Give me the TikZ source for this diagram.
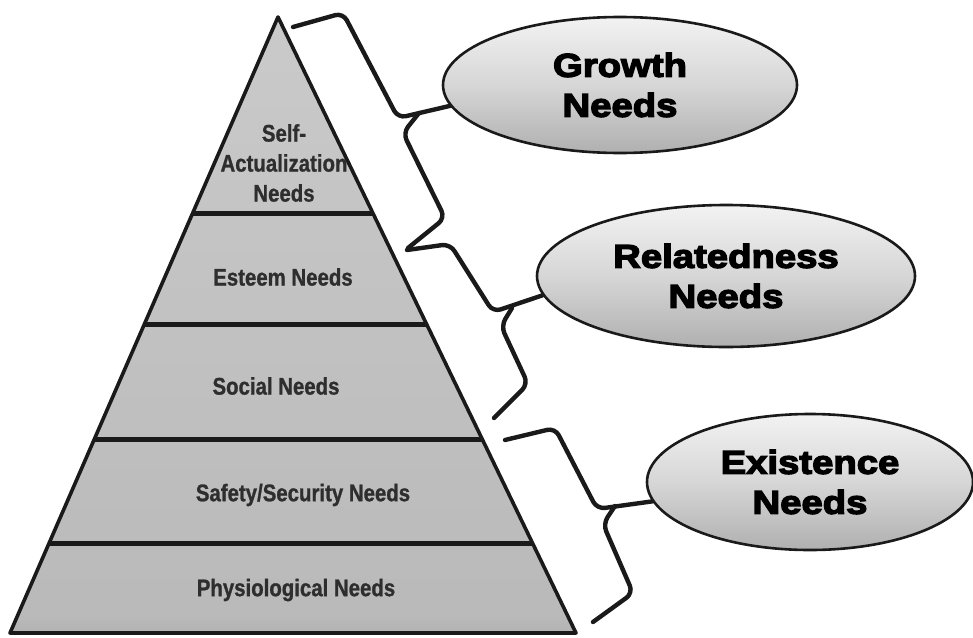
\documentclass[tikz,border=0pt]{standalone}
\usepackage{fontspec}
\setmainfont{Liberation Sans}
\newfontfamily\heavyfont[UprightFont={* Bold},FakeStretch=1.16,FakeBold=4]{Liberation Sans}
\newfontfamily\narrowfont[UprightFont={* Bold},FakeStretch=0.85,FakeBold=1]{Liberation Sans}
\usetikzlibrary{shapes.geometric}
\definecolor{pyrfill}{HTML}{B9B9B9}
\definecolor{pyrtop}{HTML}{CACACA}
\definecolor{labelgrey}{HTML}{2E2E2E}
\definecolor{lineblack}{HTML}{1A1A1A}
\tikzset{
  bubble/.style={ellipse, draw=lineblack, line width=2.6pt, inner sep=0pt,
    top color=gray!10, bottom color=gray!62, middle color=gray!32,
    font=\heavyfont\fontsize{33}{40}\selectfont, align=center, text=black},
  layerlabel/.style={font=\narrowfont\fontsize{24}{30}\selectfont, text=labelgrey, align=center},
  brace/.style={draw=lineblack, line width=4.4pt, rounded corners=8pt, line cap=round},
  divider/.style={draw=lineblack, line width=5pt}
}
\begin{document}
\begin{tikzpicture}[x=1pt,y=-1pt]
\useasboundingbox[fill=white] (0,0) rectangle (973,637);
% pyramid
\coordinate (apex) at (278,17);
\coordinate (bl) at (10,633);
\coordinate (br) at (576,633);
\fill[top color=pyrtop, bottom color=pyrfill] (apex) -- (br) -- (bl) -- cycle;
\begin{scope}
  \clip (apex) -- (br) -- (bl) -- cycle;
  \fill[top color=pyrfill, bottom color=gray!60] (0,618) rectangle (600,633);
  \draw[divider] (0,213) -- (600,213);
  \draw[divider] (0,324) -- (600,324);
  \draw[divider] (0,439) -- (600,439);
  \draw[divider] (0,543) -- (600,543);
\end{scope}
\draw[lineblack, line width=3.6pt, line join=round] (apex) -- (br) -- (bl) -- cycle;
% layer labels
\node[layerlabel] (self) at (284,163) {Self-\\Actualization\\Needs};
\node[layerlabel] (esteem) at (283,277) {Esteem Needs};
\node[layerlabel] (social) at (276,386) {Social Needs};
\node[layerlabel] (safety) at (303,495) {Safety/Security Needs};
\node[layerlabel] (physio) at (296,590) {Physiological Needs};
% ellipses
\node[bubble, minimum width=354pt, minimum height=136pt] (growth) at (620,85) {Growth\\Needs};
\node[bubble, minimum width=378pt, minimum height=142pt] (related) at (726,276) {Relatedness\\Needs};
\node[bubble, minimum width=326pt, minimum height=136pt] (exist) at (810,482) {Existence\\Needs};
% braces
\draw[brace] (293,27) -- (343,13) -- (398,118) -- (growth.187);
\draw[brace] (419,113) -- (403,133) -- (445,218) -- (408,248);
\draw[brace] (407,250) -- (450,244) -- (493,312) -- (related.186);
\draw[brace] (512,308) -- (501,326) -- (528,384) -- (494,418);
\draw[brace] (505,440) -- (555,428) -- (597,509) -- (exist.187);
\draw[brace] (615,506) -- (603,524) -- (633,593) -- (593,622);
\end{tikzpicture}
\end{document}
